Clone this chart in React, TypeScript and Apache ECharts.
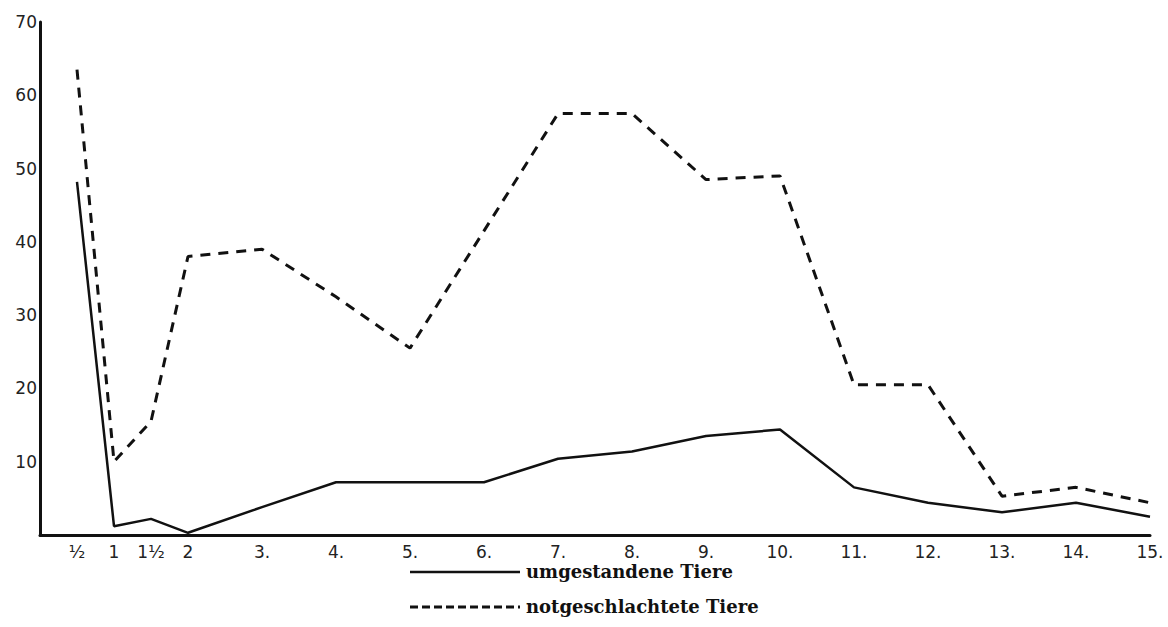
import React, { useEffect, useRef } from "react";
import * as echarts from "echarts";

const xValues = [0.5, 1, 1.5, 2, 3, 4, 5, 6, 7, 8, 9, 10, 11, 12, 13, 14, 15];
const xLabels = ["½", "1", "1½", "2", "3.", "4.", "5.", "6.", "7.", "8.", "9.", "10.", "11.", "12.", "13.", "14.", "15."];
const umgestanden = [48.2, 1.2, 2.2, 0.3, 3.8, 7.2, 7.2, 7.2, 10.4, 11.4, 13.5, 14.4, 6.5, 4.4, 3.1, 4.4, 2.5];
const notgeschlachtet = [63.5, 10, 15.5, 38, 39, 32.5, 25.5, 41.5, 57.5, 57.5, 48.5, 49, 20.5, 20.5, 5.3, 6.5, 4.4];
const seriesNames = ["umgestandene Tiere", "notgeschlachtete Tiere"];

export default function App() {
  const ref = useRef<HTMLDivElement>(null);
  useEffect(() => {
    document.body.style.margin = "0";
    const chart = echarts.init(ref.current!, null, { renderer: "svg" });
    const labelMap: Record<string, string> = {};
    xValues.forEach((v, i) => (labelMap[String(v)] = xLabels[i]));
    const legendFont = { fontFamily: "DejaVu Serif", fontWeight: "bold", fontSize: 18, fill: "#111" };
    chart.setOption({
      animation: false,
      backgroundColor: "#ffffff",
      grid: { left: 40, right: 18, top: 22, bottom: 92 },
      xAxis: {
        type: "value",
        min: 0,
        max: 15,
        interval: 0.5,
        axisLine: { show: true, lineStyle: { color: "#111", width: 3 } },
        axisTick: { show: false },
        splitLine: { show: false },
        axisLabel: {
          margin: 8,
          fontFamily: "DejaVu Sans",
          fontSize: 17,
          color: "#222",
          showMinLabel: true,
          showMaxLabel: true,
          formatter: (v: number) => labelMap[String(v)] ?? "",
        },
      },
      yAxis: {
        type: "value",
        min: 0,
        max: 70,
        interval: 10,
        axisLine: { show: true, lineStyle: { color: "#111", width: 3 } },
        axisTick: { show: false },
        splitLine: { show: false },
        axisLabel: {
          margin: 3,
          fontFamily: "DejaVu Sans",
          fontSize: 17,
          color: "#222",
          formatter: (v: number) => (v === 0 ? "" : String(v)),
        },
      },
      graphic: [
        { type: "line", shape: { x1: 410, y1: 572, x2: 520, y2: 572 }, style: { stroke: "#111", lineWidth: 2.5 } },
        { type: "text", x: 526, y: 571, style: { ...legendFont, text: seriesNames[0], verticalAlign: "middle" } },
        { type: "line", shape: { x1: 410, y1: 607, x2: 520, y2: 607 }, style: { stroke: "#111", lineWidth: 3, lineDash: [8, 4] } },
        { type: "text", x: 526, y: 606, style: { ...legendFont, text: seriesNames[1], verticalAlign: "middle" } },
      ],
      series: [
        {
          name: seriesNames[0],
          type: "line",
          symbol: "none",
          data: xValues.map((x, i) => [x, umgestanden[i]]),
          lineStyle: { color: "#111", width: 2.5, type: "solid" },
          itemStyle: { color: "#111" },
        },
        {
          name: seriesNames[1],
          type: "line",
          symbol: "none",
          data: xValues.map((x, i) => [x, notgeschlachtet[i]]),
          lineStyle: { color: "#111", width: 3, type: [10, 8] },
          itemStyle: { color: "#111" },
        },
      ],
    });
    return () => chart.dispose();
  }, []);
  return <div ref={ref} style={{ width: 1168, height: 627 }} />;
}
